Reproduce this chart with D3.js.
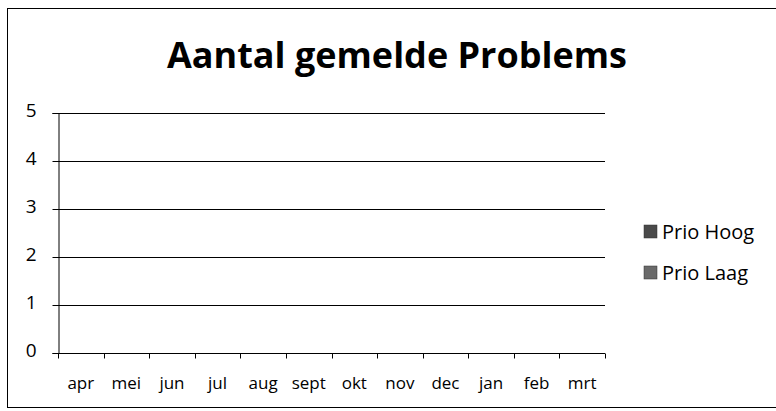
<!DOCTYPE html>
<html>
<head>
<meta charset="utf-8">
<script src="https://cdn.jsdelivr.net/npm/d3@7"></script>
<style>
  body { margin: 0; background: #fff; }
  svg { display: block; font-family: "Open Sans", "Noto Sans", sans-serif; }
</style>
</head>
<body>
<svg class="main" width="776" height="411"></svg>
<script>
var MONTHS = ["apr", "mei", "jun", "jul", "aug", "sept", "okt", "nov", "dec", "jan", "feb", "mrt"];
var SERIES = ["Prio Hoog", "Prio Laag"];
// no problems reported: every month is empty
var PRIO_HOOG = [0, 0, 0, 0, 0, 0, 0, 0, 0, 0, 0, 0];
var PRIO_LAAG = [0, 0, 0, 0, 0, 0, 0, 0, 0, 0, 0, 0];
var Y_TICKS = [0, 1, 2, 3, 4, 5];
var SWATCH = ["#4a4a4a", "#6a6a6a"];

var svg = d3.select("svg.main");

// outer frame
svg.append("rect")
  .attr("x", 7.5).attr("y", 8.5)
  .attr("width", 790).attr("height", 399)
  .attr("fill", "none").attr("stroke", "#000").attr("stroke-width", 1);

// title
svg.append("text")
  .attr("x", 397).attr("y", 68)
  .attr("text-anchor", "middle")
  .attr("font-size", 35).attr("font-weight", "bold")
  .attr("textLength", 460).attr("lengthAdjust", "spacingAndGlyphs")
  .text("Aantal gemelde Problems");

var plotLeft = 58, plotRight = 605, plotTop = 113, plotBottom = 353;

var x = d3.scaleBand().domain(MONTHS).range([plotLeft, plotRight]);
var x2 = d3.scaleBand().domain(SERIES).range([0, x.bandwidth()]).paddingOuter(0.6);
var y = d3.scaleLinear().domain([0, 5]).range([plotBottom, plotTop]);

// gridlines
svg.append("g").selectAll("line")
  .data(Y_TICKS)
  .join("line")
  .attr("x1", plotLeft).attr("x2", plotRight)
  .attr("y1", function(d) { return Math.round(y(d)) + 0.5; })
  .attr("y2", function(d) { return Math.round(y(d)) + 0.5; })
  .attr("stroke", "#000");

// bars (all zero)
var groups = svg.append("g").selectAll("g")
  .data(MONTHS)
  .join("g")
  .attr("transform", function(d) { return "translate(" + x(d) + ",0)"; });
groups.selectAll("rect")
  .data(function(d, i) { return [PRIO_HOOG[i], PRIO_LAAG[i]]; })
  .join("rect")
  .attr("x", function(d, i) { return x2(SERIES[i]); })
  .attr("width", x2.bandwidth())
  .attr("y", function(d) { return y(d); })
  .attr("height", function(d) { return y(0) - y(d); })
  .attr("fill", function(d, i) { return SWATCH[i]; });

// y axis
var yAxis = svg.append("g")
  .attr("transform", "translate(" + (plotLeft + 0.5) + ",0)")
  .call(d3.axisLeft(y).tickValues(Y_TICKS).tickSize(6).tickPadding(16).tickFormat(d3.format("d")));
yAxis.select(".domain").attr("stroke", "#000");
yAxis.selectAll(".tick line").attr("stroke", "#000");
yAxis.selectAll("text").attr("font-size", 19).attr("fill", "#000")
  .attr("font-family", "'Open Sans', sans-serif")
  .attr("dy", "0.2em");

// x axis: ticks at band boundaries
var xAxisG = svg.append("g").attr("transform", "translate(0," + (Math.round(y(0)) + 0.5) + ")");
var edges = MONTHS.map(function(m) { return x(m); }).concat([plotRight]);
xAxisG.selectAll("line.tick")
  .data(edges)
  .join("line")
  .attr("class", "tick")
  .attr("x1", function(d) { return Math.round(d) + 0.5; })
  .attr("x2", function(d) { return Math.round(d) + 0.5; })
  .attr("y1", 0).attr("y2", 5)
  .attr("stroke", "#000");
xAxisG.selectAll("text")
  .data(MONTHS)
  .join("text")
  .attr("x", function(d) { return x(d) + x.bandwidth() / 2; })
  .attr("y", 35)
  .attr("text-anchor", "middle")
  .attr("font-size", 17)
  .text(function(d) { return d; });

// legend
var legend = svg.append("g").selectAll("g")
  .data(SERIES)
  .join("g")
  .attr("transform", function(d, i) { return "translate(644," + (225 + i * 41) + ")"; });
legend.append("rect")
  .attr("x", 0).attr("y", 0)
  .attr("width", 13).attr("height", 13)
  .attr("fill", function(d, i) { return SWATCH[i]; })
  .attr("stroke", "#333").attr("stroke-width", 0.5);
legend.append("text")
  .attr("x", 18).attr("y", 14)
  .attr("font-size", 20)
  .text(function(d) { return d; });
</script>
</body>
</html>
